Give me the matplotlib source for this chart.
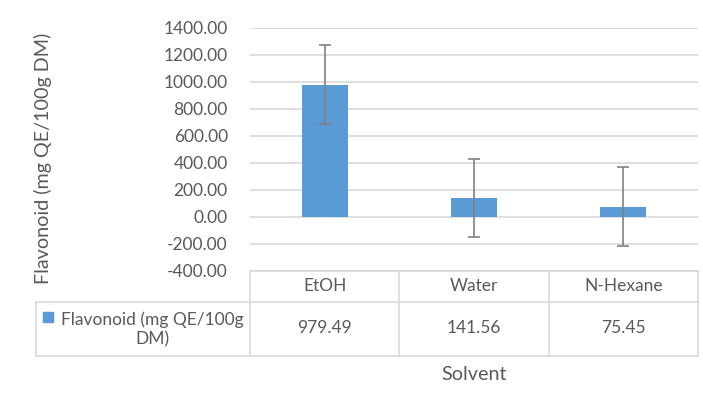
import matplotlib.pyplot as plt
from matplotlib.patches import Rectangle
from matplotlib.transforms import blended_transform_factory

# data
solvents = ['EtOH', 'Water', 'N-Hexane']
flavonoid = [979.49, 141.56, 75.45]
flavonoid_err = [293, 290, 292]
series_name = 'Flavonoid (mg QE/100g DM)'
yticks = [-400, -200, 0, 200, 400, 600, 800, 1000, 1200, 1400]

W, H = 703, 394
text_col = '#595959'
line_col = '#D9D9D9'
bar_col = '#5B9BD5'
fs = 12.5
title_fs = 14.2

plt.rcParams['font.family'] = ['Lato', 'DejaVu Sans']

fig = plt.figure(figsize=(W / 100, H / 100), dpi=100)


def fy(py):
    # pixel row (from top) -> figure fraction
    return 1 - py / H


def fx(px):
    return px / W


ax = fig.add_axes([fx(250), fy(270.7), fx(698) - fx(250), fy(28) - fy(270.7)])
x = list(range(len(solvents)))
ax.bar(x, flavonoid, width=0.31, color=bar_col, zorder=3)
ax.errorbar(x, flavonoid, yerr=flavonoid_err, fmt='none', ecolor='#808080',
            elinewidth=1.2, capsize=4, capthick=1.2, zorder=4)
ax.set_xlim(-0.5, len(solvents) - 0.5)
ax.set_ylim(-400, 1400)
ax.set_yticks(yticks)
ax.set_yticklabels([f'{v:.2f}' for v in yticks], color=text_col, fontsize=fs)
ax.set_xticks([])
ax.yaxis.set_tick_params(length=0, pad=16)
ax.grid(axis='y', color=line_col, linewidth=1.2, zorder=0)
for s in ax.spines.values():
    s.set_visible(False)

# data table under the plot
tr = blended_transform_factory(ax.transData, fig.transFigure)
y_top, y_mid, y_bot = fy(271), fy(302), fy(356)
edges = [i - 0.5 for i in range(len(solvents) + 1)]
lk = dict(color=line_col, linewidth=1.2)
fig.add_artist(plt.Line2D([edges[0], edges[-1]], [y_top, y_top], transform=tr, **lk))
for e in edges:
    fig.add_artist(plt.Line2D([e, e], [y_top, y_bot], transform=tr, **lk))
for yy in (y_mid, y_bot):
    fig.add_artist(plt.Line2D([fx(36), fx(698)], [yy, yy], transform=fig.transFigure, **lk))
fig.add_artist(plt.Line2D([fx(36), fx(36)], [y_mid, y_bot], transform=fig.transFigure, **lk))

for xi, name, val in zip(x, solvents, flavonoid):
    fig.text(xi, fy(286), name, transform=tr, ha='center', va='center',
             color=text_col, fontsize=fs)
    fig.text(xi, fy(328), f'{val:.2f}', transform=tr, ha='center', va='center',
             color=text_col, fontsize=fs)

# legend key cell
fig.add_artist(Rectangle((fx(43), fy(321.5)), fx(10), fy(312) - fy(321.5),
                         transform=fig.transFigure, color=bar_col))
fig.text(fx(152), fy(329), 'Flavonoid (mg QE/100g\nDM)', ha='center', va='center',
         multialignment='center', color=text_col, fontsize=fs, linespacing=1.25)

fig.text(fx(474), fy(375), 'Solvent', ha='center', va='center', color=text_col,
         fontsize=title_fs)
fig.text(fx(43), fy(158), series_name, ha='center', va='center', rotation=90,
         color=text_col, fontsize=title_fs)

fig.savefig('out.png', dpi=100)
